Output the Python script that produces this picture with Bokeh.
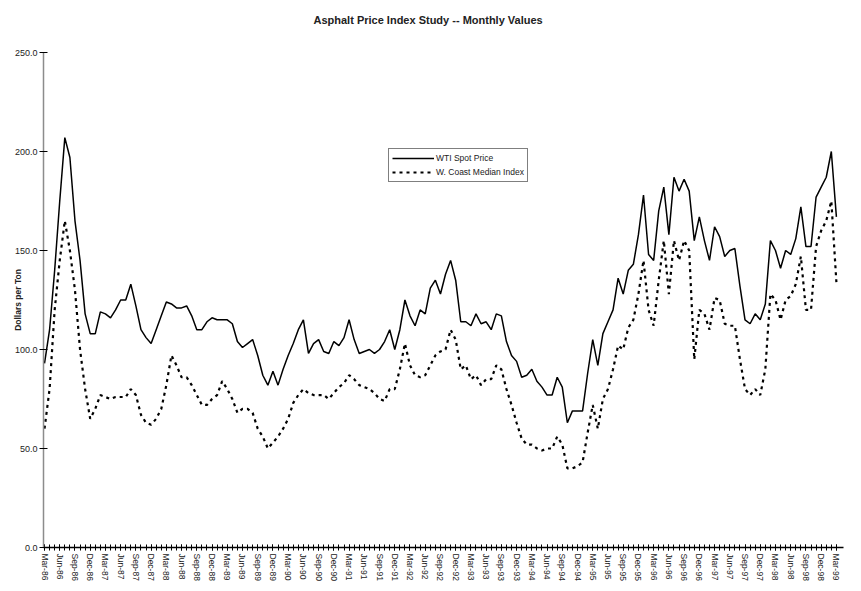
import pandas as pd
from bokeh.plotting import figure
from bokeh.models import (FixedTicker, Legend, LegendItem, ColumnDataSource, Title)
from bokeh.embed import file_html
from bokeh.resources import INLINE

# ---- data ----
months = [d.strftime("%b-%y") for d in pd.date_range("1986-03-01", "1999-03-01", freq="MS")]

wti_spot = [93, 110, 140, 175, 207, 197, 165, 145, 118, 108,
            108, 119, 118, 116, 120, 125, 125, 133, 122, 110,
            106, 103, 110, 117, 124, 123, 121, 121, 122, 117,
            110, 110, 114, 116, 115, 115, 115, 113, 104, 101,
            103, 105, 97, 87, 82, 89, 82, 90, 97, 103,
            110, 115, 98, 103, 105, 99, 98, 104, 102, 106,
            115, 105, 98, 99, 100, 98, 100, 104, 110, 100,
            110, 125, 117, 112, 120, 118, 131, 135, 128, 138,
            145, 135, 114, 114, 112, 118, 113, 114, 110, 118,
            117, 104, 97, 94, 86, 87, 90, 84, 81, 77,
            77, 86, 81, 63, 69, 69, 69, 88, 105, 92,
            108, 114, 120, 136, 128, 140, 143, 158, 178, 148,
            145, 170, 182, 158, 187, 180, 186, 180, 155, 167,
            155, 145, 162, 157, 147, 150, 151, 132, 115, 113,
            118, 115, 123, 155, 150, 141, 150, 148, 156, 172,
            152, 152, 177, 182, 187, 200, 167]

wc_median = [60, 80, 120, 145, 165, 150, 130, 100, 80, 65,
             70, 77, 76, 75, 76, 76, 76, 80, 77, 67,
             63, 62, 65, 70, 82, 97, 92, 86, 86, 82,
             77, 72, 72, 75, 77, 84, 80, 75, 68, 70,
             70, 68, 60, 56, 50, 53, 56, 60, 65, 73,
             77, 80, 78, 77, 77, 77, 75, 78, 81, 83,
             87, 85, 82, 81, 80, 78, 75, 74, 80, 80,
             90, 103, 92, 87, 86, 87, 92, 97, 99, 100,
             110, 105, 90, 92, 85, 87, 82, 85, 85, 92,
             90, 80, 72, 63, 55, 52, 52, 50, 49, 50,
             50, 56, 52, 40, 40, 41, 43, 58, 72, 60,
             75, 80, 90, 102, 100, 111, 115, 128, 145, 120,
             112, 135, 155, 128, 155, 145, 155, 150, 95, 120,
             118, 110, 126, 125, 113, 112, 112, 95, 80, 77,
             80, 77, 90, 128, 125, 115, 125, 127, 133, 147,
             120, 120, 152, 160, 165, 175, 134]

y_ticks = [0, 50, 100, 150, 200, 250]

n = len(months)
idx = list(range(n))
src = ColumnDataSource(dict(x=idx, wti=wti_spot, wc=wc_median))

FONT = "Liberation Sans"

p = figure(width=845, height=583, output_backend="svg", toolbar_location=None,
           x_range=(-0.2, 157.4), y_range=(0, 250),
           min_border_left=43, min_border_right=2, min_border_top=52, min_border_bottom=35,
           title="Asphalt Price Index Study -- Monthly Values")
p.outline_line_color = None
p.background_fill_color = "white"
p.border_fill_color = "white"
p.xgrid.grid_line_color = None
p.ygrid.grid_line_color = None

p.title.text_font = FONT
p.title.text_font_size = "11px"
p.title.text_font_style = "bold"
p.title.text_color = "#222222"
p.title.align = "left"
p.title.offset = 270
p.title.standoff = 0
# blank spacer between the title and the frame
p.add_layout(Title(text=" ", text_font_size="10px", standoff=14), "above")

r1 = p.line("x", "wti", source=src, line_color="black", line_width=1.5)
r2 = p.line("x", "wc", source=src, line_color="black", line_width=2.2, line_dash="3 4")

# x axis
quarter_ticks = list(range(0, n, 3))
p.xaxis.ticker = FixedTicker(ticks=quarter_ticks, minor_ticks=idx)
p.xaxis.major_label_overrides = {i: months[i] for i in quarter_ticks}
p.xaxis.major_label_orientation = "vertical"
p.xaxis.major_label_text_font = FONT
p.xaxis.major_label_text_font_size = "8.5px"
p.xaxis.major_label_text_color = "#222222"
p.xaxis.major_label_standoff = 3
p.xaxis.axis_line_color = "black"
p.xaxis.axis_line_width = 1.4
p.xaxis.major_tick_in = 3
p.xaxis.major_tick_out = 3
p.xaxis.minor_tick_in = 3
p.xaxis.minor_tick_out = 3
p.xaxis.major_tick_line_color = "black"
p.xaxis.minor_tick_line_color = "black"

# y axis
p.yaxis.ticker = FixedTicker(ticks=y_ticks, minor_ticks=[])
p.yaxis.major_label_overrides = {v: f"{v:.1f}" for v in y_ticks}
p.yaxis.major_label_text_font = FONT
p.yaxis.major_label_text_font_size = "9px"
p.yaxis.major_label_text_color = "#222222"
p.yaxis.major_label_standoff = 2
p.yaxis.axis_line_color = "#8c8c8c"
p.yaxis.axis_line_width = 1.5
p.yaxis.major_tick_in = 4
p.yaxis.major_tick_out = 4
p.yaxis.major_tick_line_color = "black"
p.yaxis.axis_label = "Dollars per Ton"
p.yaxis.axis_label_text_font = FONT
p.yaxis.axis_label_text_font_size = "8.5px"
p.yaxis.axis_label_text_font_style = "bold"
p.yaxis.axis_label_text_color = "#222222"
p.yaxis.axis_label_standoff = -11

legend = Legend(items=[LegendItem(label="WTI Spot Price", renderers=[r1]),
                       LegendItem(label="W. Coast Median Index", renderers=[r2])],
                location=(345, 365))
legend.border_line_color = "black"
legend.border_line_width = 1
legend.background_fill_color = "white"
legend.background_fill_alpha = 1
legend.label_text_font = FONT
legend.label_text_font_size = "8.5px"
legend.label_text_color = "#222222"
legend.glyph_width = 42
legend.glyph_height = 12
legend.label_height = 12
legend.label_standoff = 2
legend.spacing = 2
legend.padding = 3
legend.margin = 0
p.add_layout(legend)

open("out.html", "w").write(file_html(p, INLINE))
